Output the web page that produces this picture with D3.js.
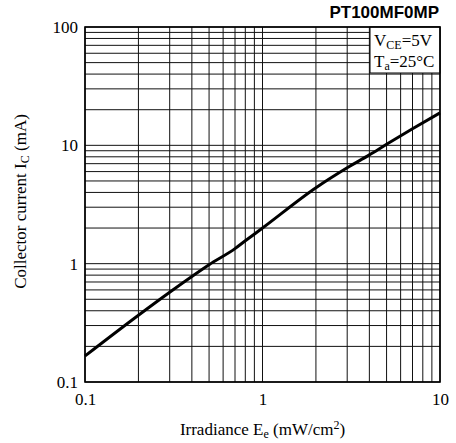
<!DOCTYPE html>
<html>
<head>
<meta charset="utf-8">
<script src="https://cdn.jsdelivr.net/npm/d3@7"></script>
<style>
  body { margin: 0; background: #fff; }
  svg { display: block; }
  .tick text { font-family: "Liberation Serif", "Times New Roman", serif; font-size: 17px; fill: #000; }
</style>
</head>
<body>
<div id="chart"></div>
<script>
// curve
var irradiance = [0.1, 0.2, 0.3, 0.4, 0.5, 0.7, 0.8, 1, 2, 3, 4, 5, 7, 10];
var current = [0.166, 0.367, 0.574, 0.78, 0.98, 1.34, 1.56, 2.0, 4.38, 6.46, 8.3, 10.2, 13.8, 18.8];
var xTickLabels = [0.1, 1, 10];
var yTickLabels = [0.1, 1, 10, 100];

var width = 456, height = 443;
var margin = {top: 27, right: 16, bottom: 61, left: 85};
var innerwidth = width - margin.left - margin.right,
    innerheight = height - margin.top - margin.bottom;

var svg = d3.select("#chart").append("svg")
    .attr("width", width)
    .attr("height", height);

var g = svg.append("g")
    .attr("transform", "translate(" + margin.left + "," + margin.top + ")");

var xScale = d3.scaleLog().domain([0.1, 10]).range([0, innerwidth]);
var yScale = d3.scaleLog().domain([0.1, 100]).range([innerheight, 0]);

// grid
g.selectAll(".vgrid")
    .data(xScale.ticks())
    .enter().append("line")
    .attr("class", "vgrid")
    .attr("x1", function(d) { return xScale(d); })
    .attr("x2", function(d) { return xScale(d); })
    .attr("y1", 0)
    .attr("y2", innerheight)
    .attr("stroke", "#111")
    .attr("stroke-width", 1);

g.selectAll(".hgrid")
    .data(yScale.ticks())
    .enter().append("line")
    .attr("class", "hgrid")
    .attr("x1", 0)
    .attr("x2", innerwidth)
    .attr("y1", function(d) { return yScale(d); })
    .attr("y2", function(d) { return yScale(d); })
    .attr("stroke", "#111")
    .attr("stroke-width", 1);

// the curve
var line = d3.line()
    .x(function(d) { return xScale(d[0]); })
    .y(function(d) { return yScale(d[1]); })
    .curve(d3.curveMonotoneX);

g.append("path")
    .datum(d3.zip(irradiance, current))
    .attr("d", line)
    .attr("fill", "none")
    .attr("stroke", "#000")
    .attr("stroke-width", 3);

// legend box (covers the grid)
var box = g.append("g").attr("transform", "translate(" + (innerwidth - 70) + ",0)");
box.append("rect")
    .attr("width", 70).attr("height", 46)
    .attr("fill", "#fff").attr("stroke", "#000").attr("stroke-width", 1);

var t1 = box.append("text")
    .attr("x", 4).attr("y", 19)
    .attr("font-family", "Liberation Serif, Times New Roman, serif")
    .attr("font-size", 17);
t1.append("tspan").text("V");
t1.append("tspan").attr("font-size", 12).attr("dy", 3).text("CE");
t1.append("tspan").attr("dy", -3).text("=5V");

var t2 = box.append("text")
    .attr("x", 4).attr("y", 40)
    .attr("font-family", "Liberation Serif, Times New Roman, serif")
    .attr("font-size", 17);
t2.append("tspan").text("T");
t2.append("tspan").attr("font-size", 12).attr("dy", 3).text("a");
t2.append("tspan").attr("dy", -3).text("=25°C");

// frame
g.append("rect")
    .attr("width", innerwidth).attr("height", innerheight)
    .attr("fill", "none").attr("stroke", "#000").attr("stroke-width", 1.6);

// axes (labels only)
var xAxis = g.append("g")
    .attr("transform", "translate(0," + innerheight + ")")
    .call(d3.axisBottom(xScale).tickValues(xTickLabels).tickSize(0).tickPadding(11)
      .tickFormat(function(d) { return String(d); }));
xAxis.select(".domain").remove();

var yAxis = g.append("g")
    .call(d3.axisLeft(yScale).tickValues(yTickLabels).tickSize(0).tickPadding(7)
      .tickFormat(function(d) { return String(d); }));
yAxis.select(".domain").remove();

// titles
svg.append("text")
    .attr("x", 439).attr("y", 18)
    .attr("text-anchor", "end")
    .attr("font-family", "Liberation Sans, Arial, sans-serif")
    .attr("font-weight", "bold")
    .attr("font-size", 17)
    .text("PT100MF0MP");

var xt = svg.append("text")
    .attr("x", margin.left + innerwidth / 2).attr("y", 435)
    .attr("text-anchor", "middle")
    .attr("font-family", "Liberation Serif, Times New Roman, serif")
    .attr("font-size", 17);
xt.append("tspan").text("Irradiance E");
xt.append("tspan").attr("font-size", 12).attr("dy", 3).text("e");
xt.append("tspan").attr("dy", -3).text(" (mW/cm");
xt.append("tspan").attr("font-size", 12).attr("dy", -6).text("2");
xt.append("tspan").attr("dy", 6).text(")");

var yt = svg.append("text")
    .attr("transform", "translate(26," + (margin.top + innerheight / 2 - 3) + ") rotate(-90)")
    .attr("text-anchor", "middle")
    .attr("font-family", "Liberation Serif, Times New Roman, serif")
    .attr("font-size", 17);
yt.append("tspan").text("Collector current I");
yt.append("tspan").attr("font-size", 12).attr("dy", 3).text("C");
yt.append("tspan").attr("dy", -3).text(" (mA)");
</script>
</body>
</html>
